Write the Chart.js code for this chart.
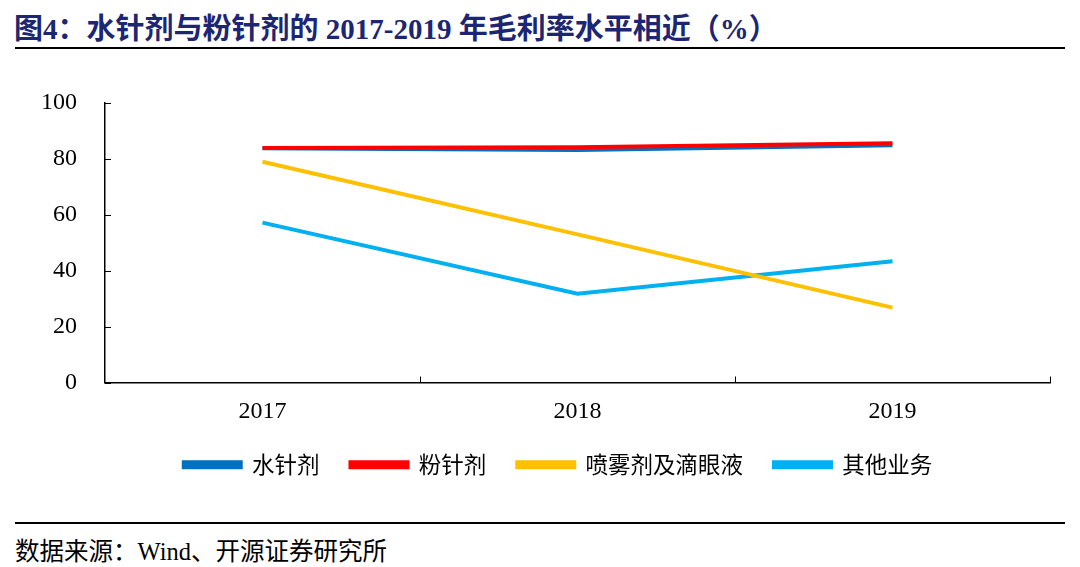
<!DOCTYPE html>
<html>
<head>
<meta charset="utf-8">
<script src="https://cdn.jsdelivr.net/npm/chart.js@4"></script>
<style>
  body { margin: 0; width: 1080px; height: 567px; background: #fff; position: relative; overflow: hidden; }
  .title { position: absolute; left: 14px; top: 5px; font: bold 29px "Liberation Serif", "Noto Sans CJK SC", serif; color: #1c2672; white-space: nowrap; }
  .rule { position: absolute; left: 15px; right: 15px; height: 2px; background: #000; }
  .source { position: absolute; left: 15px; top: 532px; font: 24.5px "Liberation Serif", "Noto Sans CJK SC", serif; color: #000; white-space: nowrap; }
  #wrap { position: absolute; left: 0; top: 60px; width: 1080px; height: 440px; }
</style>
</head>
<body>
<div class="title">图4：水针剂与粉针剂的 2017-2019 年毛利率水平相近（%）</div>
<div class="rule" style="top:47px"></div>
<div id="wrap"><canvas id="c"></canvas></div>
<div class="rule" style="top:522px"></div>
<div class="source">数据来源：Wind、开源证券研究所</div>
<script>
const years = ['2017', '2018', '2019'];
const shuiZhen = [83.8, 83.2, 84.9];
const fenZhen = [83.9, 84.2, 85.6];
const penWu = [79.0, 53.0, 26.8];
const qiTa = [57.2, 31.8, 43.4];
const yTicks = [0, 20, 40, 60, 80, 100];

const mk = (label, data, color, order) => ({
  label, data, borderColor: color, backgroundColor: color,
  borderWidth: 4, pointRadius: 0, tension: 0, order
});

// short tick marks pointing into the plot area
const inwardTicks = {
  id: 'inwardTicks',
  afterDraw(chart) {
    const { ctx, chartArea, scales: { x, y } } = chart;
    ctx.save();
    ctx.strokeStyle = '#000';
    ctx.lineWidth = 1;
    ctx.beginPath();
    y.ticks.forEach(t => {
      const py = Math.round(y.getPixelForValue(t.value)) + 0.5;
      ctx.moveTo(chartArea.left, py);
      ctx.lineTo(chartArea.left + 6, py);
    });
    const step = (x.getPixelForValue(1) - x.getPixelForValue(0));
    for (let i = 0; i < years.length; i++) {
      const px = Math.round(x.getPixelForValue(i) + step / 2) + 0.5;
      ctx.moveTo(px, chartArea.bottom);
      ctx.lineTo(px, chartArea.bottom - 6);
    }
    ctx.stroke();
    ctx.restore();
  }
};

// legend in the original sits a little right of the page centre
const nudgeLegend = {
  id: 'nudgeLegend',
  afterLayout(chart) {
    chart.legend.left += 18;
    chart.legend.right += 18;
  }
};

new Chart(document.getElementById('c'), {
  type: 'line',
  data: {
    labels: years,
    datasets: [
      mk('水针剂', shuiZhen, '#0070c0', 1),
      mk('粉针剂', fenZhen, '#ff0000', 0),
      mk('喷雾剂及滴眼液', penWu, '#ffc000', 2),
      mk('其他业务', qiTa, '#00b0f0', 3)
    ]
  },
  plugins: [inwardTicks, nudgeLegend],
  options: {
    responsive: true,
    maintainAspectRatio: false,
    animation: false,
    layout: { padding: { left: 30, right: 30, top: 43, bottom: 14 } },
    plugins: {
      tooltip: { enabled: false },
      legend: {
        position: 'bottom',
        labels: {
          boxWidth: 57, boxHeight: 5, padding: 31,
          color: '#000',
          font: { family: '"Noto Sans CJK SC", sans-serif', size: 22.5 },
          sort: (a, b) => a.datasetIndex - b.datasetIndex
        }
      }
    },
    scales: {
      x: {
        offset: true,
        afterFit: ax => { ax.height = 40; },
        grid: { display: false },
        border: { color: '#000', width: 1.5 },
        ticks: { color: '#000', padding: 7, font: { family: '"Liberation Serif", serif', size: 24 } }
      },
      y: {
        min: 0, max: 100,
        afterBuildTicks: ax => { ax.ticks = yTicks.map(v => ({ value: v })); },
        afterFit: ax => { ax.width = 75; },
        grid: { display: false },
        border: { color: '#000', width: 1.5 },
        ticks: { color: '#000', padding: 20, font: { family: '"Liberation Serif", serif', size: 24 } }
      }
    }
  }
});
</script>
</body>
</html>
